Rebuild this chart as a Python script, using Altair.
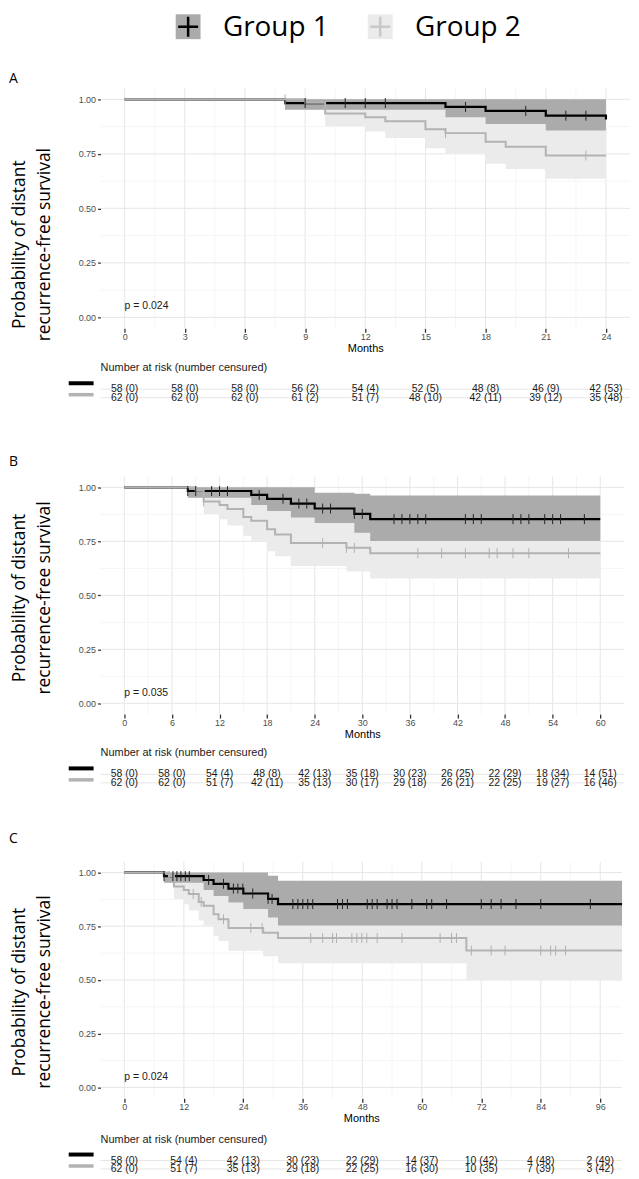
import altair as alt
import pandas as pd

SANS = "Liberation Sans, Arial, sans-serif"
OPEN = "Open Sans"

GROUPS = ["Group 1", "Group 2"]
Y_TICKS = [0, 0.25, 0.5, 0.75, 1.0]
Y_MINOR = [0.125, 0.375, 0.625, 0.875]

# ---------------- Panel A (24 months) ----------------
A_XTICKS = [0, 3, 6, 9, 12, 15, 18, 21, 24]
A_XMINOR = [1.5, 4.5, 7.5, 10.5, 13.5, 16.5, 19.5, 22.5]
A_G1_T = [0, 8, 16, 18, 21, 24]
A_G1_S = [1.0, 0.983, 0.965, 0.947, 0.925, 0.908]
A_G1_LO = [1.0, 0.952, 0.918, 0.887, 0.857, 0.853]
A_G1_HI = [1.0, 1.0, 1.0, 1.0, 1.0, 1.0]
A_G2_T = [0, 9, 10, 12, 13, 15, 16, 18, 19, 21, 24]
A_G2_S = [1.0, 0.984, 0.935, 0.918, 0.900, 0.863, 0.845, 0.806, 0.782, 0.742, 0.742]
A_G2_LO = [1.0, 0.953, 0.877, 0.852, 0.823, 0.776, 0.753, 0.704, 0.681, 0.636, 0.636]
A_G2_HI = [1.0, 1.0, 0.995, 0.99, 0.98, 0.958, 0.945, 0.915, 0.90, 0.87, 0.87]
A_C1 = [9, 11, 12, 13, 17, 20, 22, 23]
A_C2 = [8, 16, 23]
A_RISK1 = ["58 (0)", "58 (0)", "58 (0)", "56 (2)", "54 (4)", "52 (5)", "48 (8)", "46 (9)", "42 (53)"]
A_RISK2 = ["62 (0)", "62 (0)", "62 (0)", "61 (2)", "51 (7)", "48 (10)", "42 (11)", "39 (12)", "35 (48)"]
A_P = "p = 0.024"

# ---------------- Panel B (60 months) ----------------
B_XTICKS = [0, 6, 12, 18, 24, 30, 36, 42, 48, 54, 60]
B_XMINOR = [3, 9, 15, 21, 27, 33, 39, 45, 51, 57]
B_G1_T = [0, 8, 16, 18, 21, 24, 29, 31, 60]
B_G1_S = [1.0, 0.983, 0.965, 0.947, 0.925, 0.902, 0.877, 0.853, 0.853]
B_G1_LO = [1.0, 0.952, 0.918, 0.890, 0.860, 0.835, 0.790, 0.752, 0.752]
B_G1_HI = [1.0, 1.0, 1.0, 1.0, 1.0, 0.975, 0.970, 0.962, 0.962]
B_G2_T = [0, 9, 10, 12, 13, 15, 16, 18, 19, 21, 28, 31, 60]
B_G2_S = [1.0, 0.984, 0.935, 0.918, 0.900, 0.863, 0.845, 0.806, 0.782, 0.742, 0.720, 0.695, 0.695]
B_G2_LO = [1.0, 0.953, 0.877, 0.852, 0.823, 0.776, 0.753, 0.704, 0.681, 0.636, 0.610, 0.578, 0.578]
B_G2_HI = [1.0, 1.0, 0.995, 0.99, 0.98, 0.958, 0.945, 0.915, 0.90, 0.87, 0.85, 0.83, 0.83]
B_C1 = [8, 9, 11, 12, 13, 17, 20, 22, 23, 25, 26, 29, 30, 34, 35, 36, 37, 38,
        43, 44, 45, 49, 50, 51, 53, 54, 55, 58]
B_C2 = [10, 25, 28, 29, 37, 40, 43, 46, 47, 49, 51, 56]
B_RISK1 = ["58 (0)", "58 (0)", "54 (4)", "48 (8)", "42 (13)", "35 (18)", "30 (23)", "26 (25)", "22 (29)", "18 (34)", "14 (51)"]
B_RISK2 = ["62 (0)", "62 (0)", "51 (7)", "42 (11)", "35 (13)", "30 (17)", "29 (18)", "26 (21)", "22 (25)", "19 (27)", "16 (46)"]
B_P = "p = 0.035"

# ---------------- Panel C (100 months) ----------------
C_XTICKS = [0, 12, 24, 36, 48, 60, 72, 84, 96]
C_XMINOR = [6, 18, 30, 42, 54, 66, 78, 90]
C_G1_T = [0, 8, 16, 18, 21, 24, 29, 31, 100.4]
C_G1_S = [1.0, 0.983, 0.965, 0.947, 0.925, 0.902, 0.877, 0.853, 0.853]
C_G1_LO = [1.0, 0.952, 0.918, 0.890, 0.860, 0.830, 0.790, 0.753, 0.753]
C_G1_HI = [1.0, 1.0, 1.0, 1.0, 1.0, 1.0, 0.985, 0.961, 0.961]
C_G2_T = [0, 9, 10, 12, 13, 15, 16, 18, 19, 21, 28, 31, 69, 100.4]
C_G2_S = [1.0, 0.984, 0.935, 0.918, 0.900, 0.863, 0.845, 0.806, 0.782, 0.742, 0.720, 0.695, 0.637, 0.637]
C_G2_LO = [1.0, 0.953, 0.877, 0.852, 0.823, 0.776, 0.753, 0.704, 0.681, 0.636, 0.610, 0.578, 0.498, 0.498]
C_G2_HI = [1.0, 1.0, 0.995, 0.99, 0.98, 0.958, 0.945, 0.915, 0.90, 0.87, 0.85, 0.83, 0.79, 0.79]
C_C1 = [8, 9.8, 10.6, 11.4, 12.3, 13.1, 17, 20, 22, 22.9, 23.9, 25.9, 29, 29.8,
        34, 35, 36, 37, 38, 43, 44, 45, 49, 50, 51, 53, 54, 55, 58, 61, 62, 65,
        72, 74, 76, 79, 84, 94]
C_C2 = [9, 13.9, 15.5, 20, 25.5, 27.8, 37.6, 40, 42, 42.8, 45.9, 46.9, 47.9, 48.9,
        51, 56, 63.7, 66, 67, 70, 74, 76.8, 84, 86, 87, 89]
C_RISK1 = ["58 (0)", "54 (4)", "42 (13)", "30 (23)", "22 (29)", "14 (37)", "10 (42)", "4 (48)", "2 (49)"]
C_RISK2 = ["62 (0)", "51 (7)", "35 (13)", "29 (18)", "22 (25)", "16 (30)", "10 (35)", "7 (39)", "3 (42)"]
C_P = "p = 0.024"

DARK_BAND = "#ababab"
LIGHT_BAND = "#ebebeb"
G1_LINE = "#000000"
G2_LINE = "#b3b3b3"
Y_TITLE = ["Probability of distant", "recurrence-free survival"]


def step_value(times, surv, t):
    v = surv[0]
    for ti, si in zip(times, surv):
        if ti <= t:
            v = si
    return v


def panel(label, dom, width, height, xticks, xminor, g1, g2, c1, c2, pval, title_y, label_off):
    xs = alt.Scale(domain=dom, nice=False, zero=False)
    ys = alt.Scale(domain=[-0.05, 1.05], nice=False, zero=False)
    xaxis = alt.Axis(values=xticks, title="Months", grid=False, domain=False,
                     labelFont=SANS, labelFontSize=9, labelColor="#4d4d4d",
                     labelPadding=0, labelFlush=False, labelOverlap=False,
                     tickSize=4, tickColor="#333333", tickWidth=1.3,
                     titleFont=SANS, titleFontSize=11, titleFontWeight="normal",
                     titleColor="#000000", titlePadding=1)
    yaxis = alt.Axis(values=Y_TICKS, format=".2f", grid=False, domain=False,
                     labelFont=SANS, labelFontSize=9, labelColor="#4d4d4d",
                     labelPadding=2, labelFlush=False, labelOverlap=False,
                     tickSize=3, tickColor="#333333", tickWidth=1.3,
                     title=Y_TITLE, titleFont=OPEN, titleFontSize=17.5,
                     titleFontWeight="normal", titleColor="#000000",
                     titleLineHeight=25, titleAngle=270, titleX=-90,
                     titleY=title_y, titleAlign="center", titleBaseline="top")
    X = lambda f: alt.X(f, scale=xs, axis=xaxis)
    Y = lambda f: alt.Y(f, scale=ys, axis=yaxis)

    vmin = alt.Chart(pd.DataFrame({"v": xminor})).mark_rule(
        color="#f2f2f2", strokeWidth=0.8).encode(x=X("v:Q"))
    vmaj = alt.Chart(pd.DataFrame({"v": xticks})).mark_rule(
        color="#e6e6e6", strokeWidth=1).encode(x=X("v:Q"))
    hmin = alt.Chart(pd.DataFrame({"v": Y_MINOR})).mark_rule(
        color="#f2f2f2", strokeWidth=0.8).encode(y=Y("v:Q"))
    hmaj = alt.Chart(pd.DataFrame({"v": Y_TICKS})).mark_rule(
        color="#e6e6e6", strokeWidth=1).encode(y=Y("v:Q"))

    d1 = pd.DataFrame({"t": g1[0], "s": g1[1], "lo": g1[2], "hi": g1[3]})
    d2 = pd.DataFrame({"t": g2[0], "s": g2[1], "lo": g2[2], "hi": g2[3]})

    band2 = alt.Chart(d2).mark_area(interpolate="step-after", color=LIGHT_BAND, opacity=1).encode(
        x=X("t:Q"), y=Y("lo:Q"), y2="hi:Q")
    band1 = alt.Chart(d1).mark_area(interpolate="step-after", color=DARK_BAND, opacity=1).encode(
        x=X("t:Q"), y=Y("lo:Q"), y2="hi:Q")
    line1 = alt.Chart(d1).mark_line(interpolate="step-after", color=G1_LINE, strokeWidth=2.2).encode(
        x=X("t:Q"), y=Y("s:Q"))
    line2 = alt.Chart(d2).mark_line(interpolate="step-after", color=G2_LINE, strokeWidth=2.0).encode(
        x=X("t:Q"), y=Y("s:Q"))

    cd1 = pd.DataFrame({"t": c1, "s": [step_value(g1[0], g1[1], t) for t in c1]})
    cd2 = pd.DataFrame({"t": c2, "s": [step_value(g2[0], g2[1], t) for t in c2]})
    cens2 = alt.Chart(cd2).mark_point(shape="M0,-1L0,1", size=100, filled=False,
                                      strokeWidth=1, color="#b0b0b0", opacity=1).encode(
        x=X("t:Q"), y=Y("s:Q"))
    cens1 = alt.Chart(cd1).mark_point(shape="M0,-1L0,1", size=100, filled=False,
                                      strokeWidth=1, color="#222222", opacity=1).encode(
        x=X("t:Q"), y=Y("s:Q"))

    ptxt = alt.Chart(pd.DataFrame({"t": [0], "y": [0.05], "label": [pval]})).mark_text(
        align="left", baseline="middle", font=SANS, fontSize=10.5, color="#1a1a1a").encode(
        x=X("t:Q"), y=Y("y:Q"), text="label:N")

    return alt.layer(vmin, vmaj, hmin, hmaj, band2, band1, line1, line2, cens1, cens2, ptxt).properties(
        width=width, height=height,
        title=alt.TitleParams(label, anchor="start", frame="group", dx=-92, offset=label_off,
                              font=OPEN, fontSize=14, fontWeight="normal", color="#000000"))


def risk_table(dom, width, xticks, r1, r2):
    xs = alt.Scale(domain=dom, nice=False, zero=False)
    ys = alt.Scale(domain=[-0.5, 1.5], reverse=True, nice=False, zero=False)
    n = len(xticks)
    df = pd.DataFrame({"t": list(xticks) * 2, "row": [0] * n + [1] * n, "label": list(r1) + list(r2)})
    X = lambda f: alt.X(f, scale=xs, axis=None)
    Y = lambda f: alt.Y(f, scale=ys, axis=None)
    hgrid = alt.Chart(pd.DataFrame({"row": [0, 1]})).mark_rule(color="#e6e6e6", strokeWidth=1).encode(
        y=Y("row:Q"))
    vgrid = alt.Chart(pd.DataFrame({"v": xticks})).mark_rule(color="#f0f0f0", strokeWidth=1).encode(
        x=X("v:Q"))
    txt = alt.Chart(df).mark_text(font=SANS, fontSize=10.5, color="#1a1a1a", baseline="middle").encode(
        x=X("t:Q"), y=Y("row:Q"), text="label:N")
    key1 = alt.Chart(pd.DataFrame({"row": [0]})).mark_rule(color=G1_LINE, strokeWidth=4, yOffset=-6).encode(
        x=alt.value(-32), x2=alt.value(-7), y=Y("row:Q"))
    key2 = alt.Chart(pd.DataFrame({"row": [1]})).mark_rule(color=G2_LINE, strokeWidth=3.5, yOffset=-3).encode(
        x=alt.value(-32), x2=alt.value(-7), y=Y("row:Q"))
    return alt.layer(vgrid, hgrid, txt, key1, key2).properties(
        width=width, height=17,
        title=alt.TitleParams("Number at risk (number censured)", anchor="start", frame="group",
                              offset=8, font=SANS, fontSize=11, fontWeight="normal", color="#1a1a1a"))


def spacer(h, w=532):
    return alt.Chart(pd.DataFrame({"z": [0]})).mark_point(opacity=0).encode(
        x=alt.value(0), y=alt.value(0)).properties(width=w, height=h)


# ---------------- Legend ----------------
leg_df = pd.DataFrame({"group": GROUPS})
lx = alt.X("group:N", scale=alt.Scale(type="point", domain=GROUPS, range=[88, 281], padding=0), axis=None)
leg_sq = alt.Chart(leg_df).mark_square(size=625, opacity=1).encode(
    x=lx, fill=alt.Fill("group:N", scale=alt.Scale(domain=GROUPS, range=[DARK_BAND, LIGHT_BAND]), legend=None))
leg_cross = alt.Chart(leg_df).mark_point(shape="M-1,0L1,0M0,-1L0,1", size=400, filled=False, opacity=1,
                                         strokeWidth=2.5).encode(
    x=lx, stroke=alt.Stroke("group:N", scale=alt.Scale(domain=GROUPS, range=["#000000", "#c8c8c8"]), legend=None))
leg_txt = alt.Chart(leg_df).mark_text(align="left", baseline="middle", dx=35, dy=1, font=OPEN, fontSize=28,
                                      color="#000000").encode(x=lx, text="group:N")
legend = alt.layer(leg_sq, leg_cross, leg_txt).properties(width=532, height=24)

pA = panel("A", [-1.2, 25.2], 532, 241, A_XTICKS, A_XMINOR,
           (A_G1_T, A_G1_S, A_G1_LO, A_G1_HI), (A_G2_T, A_G2_S, A_G2_LO, A_G2_HI),
           A_C1, A_C2, A_P, 156.5, 2)
tA = risk_table([-1.2, 25.2], 532, A_XTICKS, A_RISK1, A_RISK2)
pB = panel("B", [-3, 63], 526, 238.7, B_XTICKS, B_XMINOR,
           (B_G1_T, B_G1_S, B_G1_LO, B_G1_HI), (B_G2_T, B_G2_S, B_G2_LO, B_G2_HI),
           B_C1, B_C2, B_P, 121.5, 7.5)
tB = risk_table([-3, 63], 526, B_XTICKS, B_RISK1, B_RISK2)
pC = panel("C", [-4.8, 100.4], 524, 237.6, C_XTICKS, C_XMINOR,
           (C_G1_T, C_G1_S, C_G1_LO, C_G1_HI), (C_G2_T, C_G2_S, C_G2_LO, C_G2_HI),
           C_C1, C_C2, C_P, 130.5, 15)
tC = risk_table([-4.8, 100.4], 524, C_XTICKS, C_RISK1, C_RISK2)

chart = alt.vconcat(
    legend, spacer(49.6),
    pA, spacer(56.45), tA, spacer(74.75),
    pB, spacer(55.8), tB, spacer(74.5),
    pC, spacer(57.4), tC,
    spacing=0, bounds="flush", padding=0, background="white",
).configure_view(stroke="transparent")

chart.save("out.html", embed_options={"renderer": "svg", "actions": False})
